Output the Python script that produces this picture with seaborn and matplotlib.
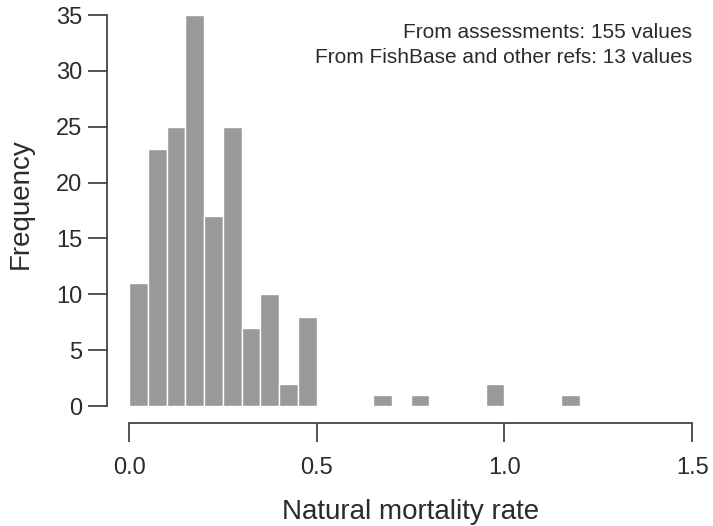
import pandas as pd
import matplotlib
matplotlib.use("Agg")
from matplotlib import pyplot as plt
import seaborn as sns

# histogram of natural mortality rates, bins of width 0.05 from 0 to 1.2
bin_edges = [round(0.05 * i, 2) for i in range(25)]
counts = [11, 23, 25, 35, 17, 25, 7, 10, 2, 8,
          0, 0, 0, 1, 0, 1, 0, 0, 0, 2,
          0, 0, 0, 1]
x_ticks = [0.0, 0.5, 1.0, 1.5]
y_ticks = [0, 5, 10, 15, 20, 25, 30, 35]
note_lines = ["From assessments: 155 values",
              "From FishBase and other refs: 13 values"]

df = pd.DataFrame({"mid": [(a + b) / 2 for a, b in zip(bin_edges[:-1], bin_edges[1:])],
                   "count": counts})

sns.set_style("ticks")
plt.rcParams["font.family"] = ["Liberation Sans", "DejaVu Sans"]
ink = "#2b2b2b"

fig = plt.figure(figsize=(7.13, 5.26), dpi=100)
# axes placed in pixel terms to mimic R's detached axes
ax = fig.add_axes([107 / 713, 103 / 526, 598 / 713, 418 / 526])

sns.histplot(data=df, x="mid", weights="count", bins=bin_edges, ax=ax,
             color="#999999", edgecolor="white", linewidth=1, alpha=1)

ax.set_xlim(-0.0586, 1.534)
ax.set_ylim(-1.52, 35.9)

# R-like axes
sns.despine(ax=ax)
ax.spines["left"].set_bounds(0, 35)
ax.spines["bottom"].set_bounds(0, 1.5)
for s in ["left", "bottom"]:
    ax.spines[s].set_linewidth(1.3)
    ax.spines[s].set_color("#444444")

ax.set_xticks(x_ticks)
ax.set_xticklabels(["{:.1f}".format(v) for v in x_ticks])
ax.set_yticks(y_ticks)
ax.tick_params(axis="both", length=13.7, width=1.3, color="#444444",
               labelsize=17, labelcolor=ink)
ax.tick_params(axis="x", pad=11)
ax.tick_params(axis="y", pad=4)

ax.set_xlabel("Natural mortality rate", fontsize=20, color=ink)
ax.set_ylabel("Frequency", fontsize=20, color=ink)
ax.xaxis.set_label_coords(0.507, -0.182)
ax.yaxis.set_label_coords(-0.122, 0.524)

ax.text(1.5, 33.4, note_lines[0], ha="right", va="center",
        fontsize=15, color=ink)
ax.text(1.5, 31.2, note_lines[1], ha="right", va="center",
        fontsize=15, color=ink)

fig.savefig("out.png", dpi=100)
